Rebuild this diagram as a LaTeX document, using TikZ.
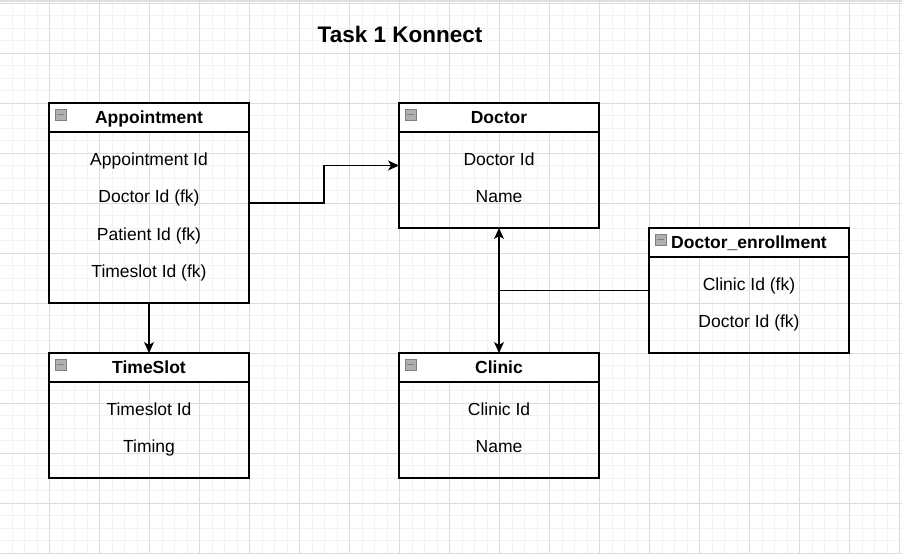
\documentclass[tikz,border=0pt]{standalone}
\usepackage{fontspec}
\setmainfont{Liberation Sans}
\usetikzlibrary{positioning,arrows.meta,calc}

\definecolor{gridminor}{HTML}{F2F2F2}
\definecolor{gridmajor}{HTML}{DCDCDC}
\definecolor{iconfill}{HTML}{B0B0B0}
\definecolor{iconline}{HTML}{808080}

\tikzset{
  erarrow/.tip={Stealth[length=11pt,width=10pt,inset=3pt]},
  enthead/.style={draw, rectangle, fill=white, line width=1.3pt, minimum width=200pt,
    minimum height=29pt, inner sep=0pt, outer sep=0pt, text height=12.6pt, text depth=0pt,
    font=\bfseries\fontsize{17.5}{21}\selectfont},
  entbody/.style={draw, rectangle, line width=1.3pt, minimum width=200pt, inner sep=0pt,
    outer sep=0pt, align=center, text depth=4.9pt,
    font=\fontsize{17.5}{37.5}\selectfont},
  collapse/.style={draw=iconline, fill=iconfill, rectangle, minimum size=11pt, inner sep=0pt,
    line width=0.6pt, path picture={\draw[line width=1.3pt]
      ([xshift=2pt]path picture bounding box.west) -- ([xshift=-2pt]path picture bounding box.east);}},
  link/.style={line width=1.3pt, -erarrow},
  dblink/.style={line width=1.3pt, erarrow-erarrow},
  plain/.style={line width=1.3pt},
}

\begin{document}
\begin{tikzpicture}[x=1pt, y=-1pt]
  \useasboundingbox (0,0) rectangle (902,554);
  % Background grid
  \fill[white] (0,0) rectangle (902,554);
  \foreach \i in {0,...,72} \draw[gridminor, line width=0.8pt] ({-0.5+12.5*\i},0) -- ({-0.5+12.5*\i},554);
  \foreach \i in {0,...,44} \draw[gridminor, line width=0.8pt] (0,{3+12.5*\i}) -- (902,{3+12.5*\i});
  \foreach \i in {0,...,18} \draw[gridmajor, line width=0.8pt] ({-0.5+50*\i},0) -- ({-0.5+50*\i},554);
  \foreach \i in {0,...,11} \draw[gridmajor, line width=0.8pt] (0,{3+50*\i}) -- (902,{3+50*\i});
  \fill[gray!25] (0,0) rectangle (902,2);

  % Title
  \node[font=\bfseries\fontsize{22.5}{27}\selectfont] (title) at (400,34) {Task 1 Konnect};

  % Tables
  \node[enthead] (appt-head) at (149,117.5) {Appointment};
  \node[entbody, minimum height=171pt, below=0pt of appt-head] (appt-body)
    {Appointment Id\\Doctor Id (fk)\\Patient Id (fk)\\Timeslot Id (fk)};

  \node[enthead, right=150pt of appt-head] (doc-head) {Doctor};
  \node[entbody, minimum height=96pt, below=0pt of doc-head] (doc-body) {Doctor Id\\Name};

  \node[enthead, right=50pt of doc-body.south east, anchor=north west] (enr-head) {Doctor\_enrollment};
  \node[entbody, minimum height=96pt, below=0pt of enr-head] (enr-body) {Clinic Id (fk)\\Doctor Id (fk)};

  \node[enthead, below=50pt of appt-body] (time-head) {TimeSlot};
  \node[entbody, minimum height=96pt, below=0pt of time-head] (time-body) {Timeslot Id\\Timing};

  \node[enthead, right=150pt of time-head] (clin-head) {Clinic};
  \node[entbody, minimum height=96pt, below=0pt of clin-head] (clin-body) {Clinic Id\\Name};

  % Collapse icons
  \foreach \t in {appt, doc, enr, time, clin}
    \node[collapse, below right=6pt and 6pt of \t-head.north west] (\t-icon) {};

  % Connectors
  \coordinate (appt-mid) at ($(appt-head.north east)!.5!(appt-body.south east)$);
  \coordinate (doc-mid) at ($(doc-head.north west)!.5!(doc-body.south west)$);
  \coordinate (enr-mid) at ($(enr-head.north west)!.5!(enr-body.south west)$);
  \draw[link] (appt-mid) -- ++(75,0) |- (doc-mid);
  \draw[link] (appt-body.south) -- (time-head.north);
  \draw[dblink] (doc-body.south) -- (clin-head.north);
  \draw[plain] (enr-mid) -- (enr-mid -| doc-body.south);
\end{tikzpicture}
\end{document}
